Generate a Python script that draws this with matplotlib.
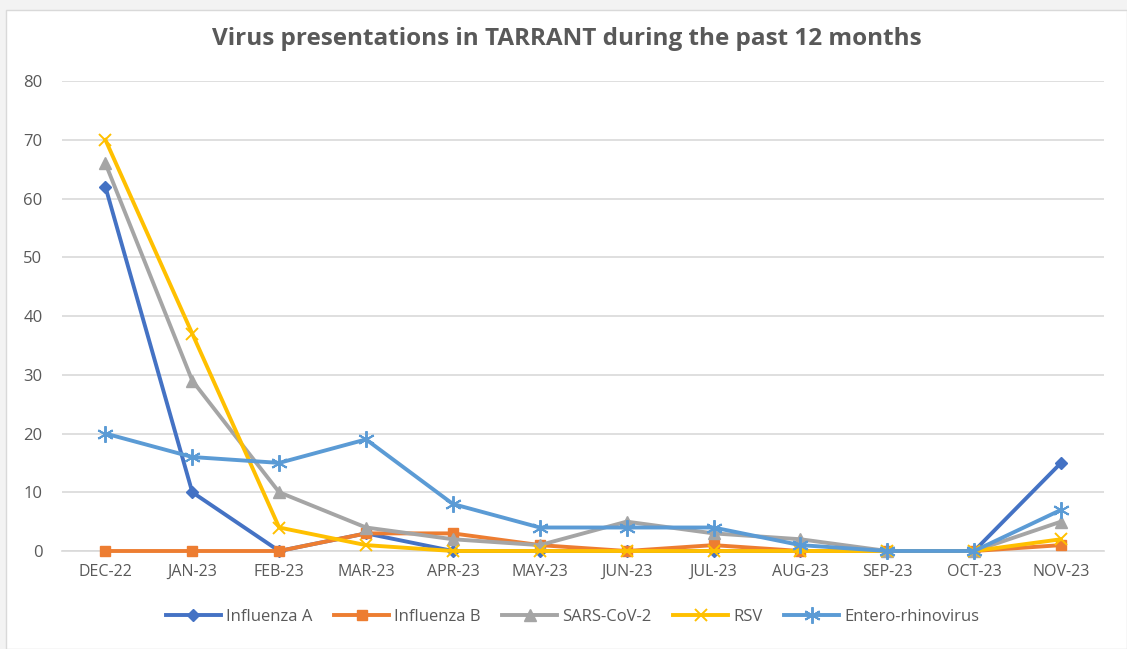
import matplotlib.pyplot as plt
from matplotlib.patches import Rectangle

months = ['DEC-22', 'JAN-23', 'FEB-23', 'MAR-23', 'APR-23', 'MAY-23',
          'JUN-23', 'JUL-23', 'AUG-23', 'SEP-23', 'OCT-23', 'NOV-23']
flu_a = [62, 10, 0, 3, 0, 0, 0, 0, 0, 0, 0, 15]
flu_b = [0, 0, 0, 3, 3, 1, 0, 1, 0, 0, 0, 1]
sars = [66, 29, 10, 4, 2, 1, 5, 3, 2, 0, 0, 5]
rsv = [70, 37, 4, 1, 0, 0, 0, 0, 0, 0, 0, 2]
entero = [20, 16, 15, 19, 8, 4, 4, 4, 1, 0, 0, 7]

plt.rcParams['font.family'] = ['Open Sans', 'DejaVu Sans']
txt = '#595959'

fig = plt.figure(figsize=(11.27, 6.49), dpi=100)
fig.patch.set_facecolor('#f3f3f3')
fig.patches.append(Rectangle((0.005, 0.0), 0.995, 0.985, transform=fig.transFigure,
                             facecolor='white', edgecolor='#d9d9d9', lw=1, zorder=-1))
ax = fig.add_axes([0.055, 0.151, 0.925, 0.724])
ax.set_facecolor('white')

x = range(len(months))
series = [
    ('Influenza A', flu_a, '#4472C4', 'D', 6),
    ('Influenza B', flu_b, '#ED7D31', 's', 7),
    ('SARS-CoV-2', sars, '#A5A5A5', '^', 8),
    ('RSV', rsv, '#FFC000', 'x', 9),
    ('Entero-rhinovirus', entero, '#5B9BD5', (6, 2, 0), 12),
]
for i, (name, vals, col, mk, ms) in enumerate(series):
    thin = mk == 'x' or isinstance(mk, tuple)
    ax.plot(x, vals, color=col, lw=2.8, marker=mk, markersize=ms,
            markeredgewidth=1.4 if thin else 1, label=name,
            solid_joinstyle='round', clip_on=False, zorder=3 + i)

ax.set_xlim(-0.5, len(months) - 0.5)
ax.set_ylim(0, 80)
ax.set_yticks(range(0, 81, 10))
ax.set_xticks(list(x))
ax.set_xticklabels(months, fontsize=11.5)
ax.grid(axis='y', color='#d9d9d9', lw=1.2)
ax.set_axisbelow(True)
for s in ['top', 'right', 'left']:
    ax.spines[s].set_visible(False)
ax.spines['bottom'].set_color('#d9d9d9')
ax.spines['bottom'].set_linewidth(1.2)
ax.spines['bottom'].set_zorder(1)
ax.tick_params(length=0, colors=txt)
ax.tick_params(axis='y', pad=14, labelsize=12)
ax.tick_params(axis='x', pad=9)

fig.text(0.503, 0.94, 'Virus presentations in TARRANT during the past 12 months',
         ha='center', va='center', fontsize=17.5, fontweight='bold', color=txt)

fig.legend(loc='center', bbox_to_anchor=(0.508, 0.049), ncol=5, frameon=False,
           fontsize=12, labelcolor=txt, handlelength=3.3, columnspacing=1.3,
           handletextpad=0.3)

fig.savefig('out.png', dpi=100)
